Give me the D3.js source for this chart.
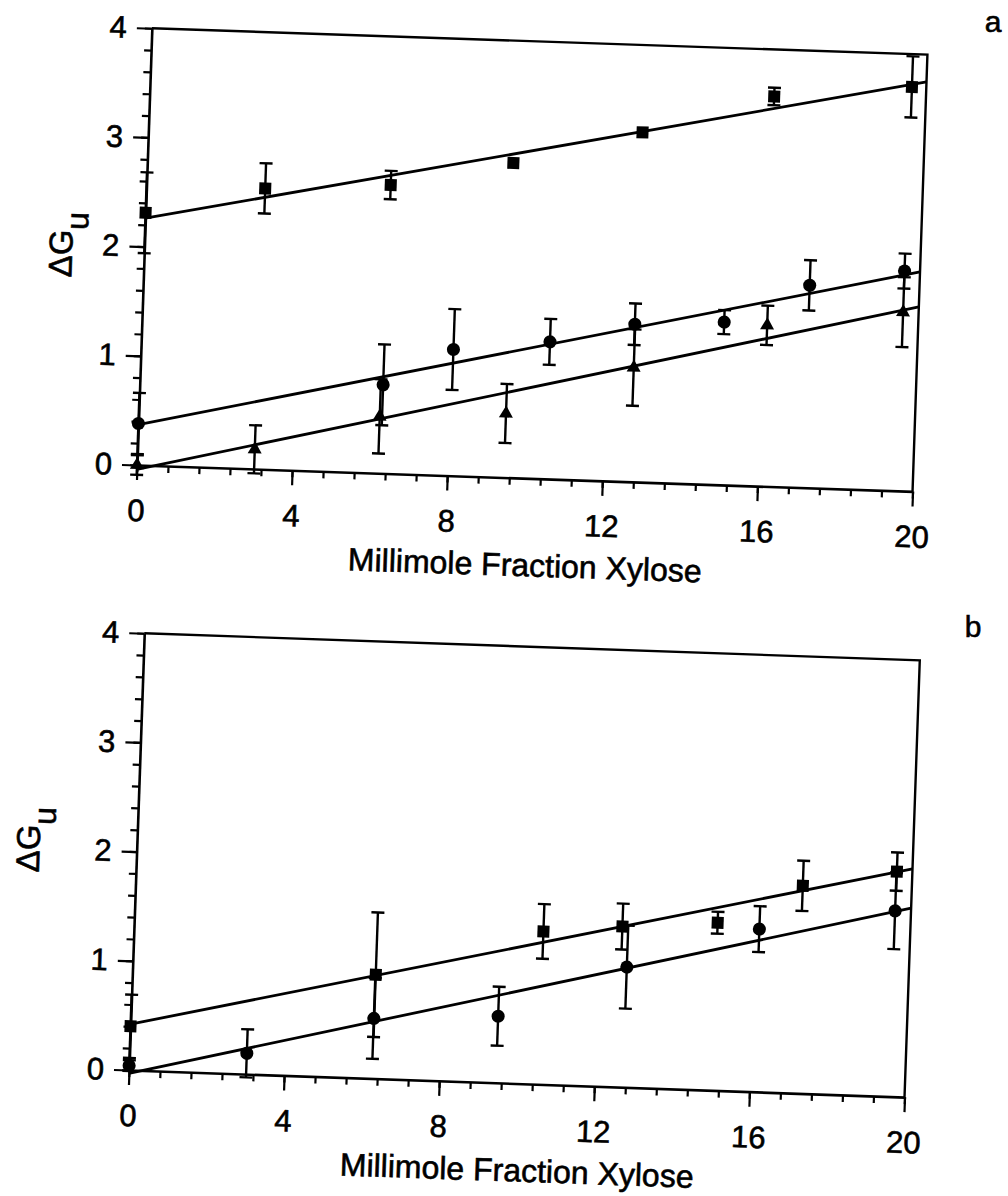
<!DOCTYPE html>
<html><head><meta charset="utf-8">
<script src="https://cdn.jsdelivr.net/npm/d3@7"></script>
<style>
body{margin:0;background:#fff;}
svg text{font-family:"Liberation Sans",Arial,Helvetica,sans-serif;fill:#000;stroke:#000;stroke-width:0.6px;}
</style></head><body>
<svg id="c" width="1008" height="1196"></svg>
<script>
// ---------- data ----------
const xTicksMajor = [0, 4, 8, 12, 16, 20];
const yTicksMajor = [0, 1, 2, 3, 4];
const xTitle = "Millimole Fraction Xylose";
const yTitleMain = "ΔG";
const yTitleSub = "u";
const panelLetters = ["a", "b"];

// panel a – squares
const aSqX = [0, 3.06, 6.29, 9.43, 12.73, 16.09, 19.63];
const aSqY = [2.31, 2.57, 2.64, 2.88, 3.20, 3.57, 3.70];
const aSqE = [0.37, 0.23, 0.13, 0, 0, 0.08, 0.28];
// panel a – circles
const aCiX = [0, 6.27, 8.05, 10.53, 12.70, 15.00, 17.17, 19.60];
const aCiY = [0.38, 0.81, 1.155, 1.255, 1.443, 1.49, 1.853, 2.013];
const aCiE = [0.28, 0.37, 0.37, 0.21, 0.19, 0.11, 0.23, 0.16];
// panel a – triangles
const aTrX = [0, 3.02, 6.21, 9.46, 12.71, 16.11, 19.60];
const aTrY = [0.0, 0.18, 0.52, 0.586, 1.046, 1.474, 1.637];
const aTrE = [0.09, 0.22, 0.34, 0.27, 0.35, 0.18, 0.32];
// panel a – fitted lines [x, y] endpoints
const aSqFit = [[0, 2.26], [20, 3.75]];
const aCiFit = [[0, 0.37], [20, 2.01]];
const aTrFit = [[0, -0.04], [20, 1.69]];

// panel b – squares
const bSqX = [0, 6.27, 10.55, 12.58, 15.03, 17.19, 19.60];
const bSqY = [0.40, 0.95, 1.40, 1.47, 1.535, 1.90, 2.06];
const bSqE = [0.29, 0.57, 0.25, 0.21, 0.10, 0.23, 0.175];
// panel b – circles
const bCiX = [0, 3.02, 6.26, 9.46, 12.73, 16.11, 19.59];
const bCiY = [0.04, 0.19, 0.55, 0.61, 1.10, 1.49, 1.70];
const bCiE = [0.05, 0.22, 0.37, 0.27, 0.38, 0.21, 0.35];
// panel b – fitted lines
const bSqFit = [[0, 0.42], [20, 2.09]];
const bCiFit = [[0, -0.03], [20, 1.73]];

// ---------- drawing ----------
const svg = d3.select("#c");
const W = 776, H = 437;
const x = d3.scaleLinear().domain([0, 20]).range([0, W]);
const y = d3.scaleLinear().domain([0, 4]).range([H, 0]);
const xMinor = d3.range(26).map(i => +(i * 0.8).toFixed(2));
const yMinor = d3.range(21).map(i => +(i * 0.2).toFixed(2));

const SQ = {type: d3.symbolSquare, size: 144};
const CI = {type: d3.symbolCircle, size: 135};
const TR = {type: d3.symbolTriangle, size: 85};

const panels = [
  {ox: 137, oy: 465, ang: 1.95, ylab: [-72, 219], letter: [993, 32],
   series: [[aSqX, aSqY, aSqE, SQ], [aCiX, aCiY, aCiE, CI], [aTrX, aTrY, aTrE, TR]],
   fits: [aSqFit, aCiFit, aTrFit]},
  {ox: 129, oy: 1070, ang: 2.0, ylab: [-97, 210], letter: [973, 637],
   series: [[bSqX, bSqY, bSqE, SQ], [bCiX, bCiY, bCiE, CI]],
   fits: [bSqFit, bCiFit]}
];

panels.forEach((p, pi) => {
  const g = svg.append("g")
    .attr("transform", `translate(${p.ox},${p.oy}) rotate(${p.ang}) translate(0,${-H})`);

  // frame top + right
  g.append("path").attr("d", `M0,0H${W}V${H}`)
    .attr("fill", "none").attr("stroke", "#000").attr("stroke-width", 2.4);

  // minor ticks
  g.append("g").attr("transform", `translate(0,${H})`)
    .call(d3.axisBottom(x).tickValues(xMinor).tickSize(7).tickSizeOuter(0).tickFormat(""))
    .call(s => s.select(".domain").remove());
  g.append("g")
    .call(d3.axisLeft(y).tickValues(yMinor).tickSize(7).tickSizeOuter(0).tickFormat(""))
    .call(s => s.select(".domain").remove());

  // major axes
  const xa = g.append("g").attr("transform", `translate(0,${H})`)
    .call(d3.axisBottom(x).tickValues(xTicksMajor).tickSize(15).tickSizeOuter(0)
      .tickPadding(19).tickFormat(d3.format("d")));
  const ya = g.append("g")
    .call(d3.axisLeft(y).tickValues(yTicksMajor).tickSize(15).tickSizeOuter(0)
      .tickPadding(10).tickFormat(d3.format("d")));
  [xa, ya].forEach(a => {
    a.select(".domain").attr("stroke-width", 2.6);
    a.selectAll("text").attr("font-size", 31).attr("font-family", "Liberation Sans, Arial, sans-serif").attr("fill", "#000");
  });
  g.selectAll(".tick line").attr("stroke", "#000").attr("stroke-width", 2.2);

  // fitted lines
  const line = d3.line().x(d => x(d[0])).y(d => y(d[1]));
  p.fits.forEach(f => g.append("path").attr("d", line(f))
    .attr("fill", "none").attr("stroke", "#000").attr("stroke-width", 2.8));

  // error bars + markers
  p.series.forEach(([xs, ys, es, sym]) => {
    const data = xs.map((v, i) => ({x: v, y: ys[i], e: es[i]}));
    const eb = g.append("g").attr("stroke", "#000").attr("stroke-width", 2.4);
    data.filter(d => d.e > 0).forEach(d => {
      const cx = x(d.x), y1 = y(d.y - d.e), y2 = y(d.y + d.e);
      eb.append("line").attr("x1", cx).attr("x2", cx).attr("y1", y1).attr("y2", y2);
      eb.append("line").attr("x1", cx - 6.5).attr("x2", cx + 6.5).attr("y1", y1).attr("y2", y1);
      eb.append("line").attr("x1", cx - 6.5).attr("x2", cx + 6.5).attr("y1", y2).attr("y2", y2);
    });
    g.append("g").selectAll("path").data(data).join("path")
      .attr("transform", d => `translate(${x(d.x)},${y(d.y)})`)
      .attr("d", d3.symbol().type(sym.type).size(sym.size))
      .attr("fill", "#000");
  });

  // x title
  g.append("text").attr("x", x(10) + 3).attr("y", H + 98)
    .attr("text-anchor", "middle").attr("font-size", 32).text(xTitle);

  // y title
  const yt = g.append("text")
    .attr("transform", `translate(${p.ylab[0]},${p.ylab[1]}) rotate(-90)`)
    .attr("text-anchor", "middle").attr("font-size", 33);
  yt.append("tspan").text(yTitleMain);
  yt.append("tspan").attr("dy", 15).attr("font-size", 32).text(yTitleSub);

  // panel letter
  svg.append("text").attr("x", p.letter[0]).attr("y", p.letter[1])
    .attr("text-anchor", "middle").attr("font-size", 30)
    .text(panelLetters[pi]);
});
</script>
</body></html>
